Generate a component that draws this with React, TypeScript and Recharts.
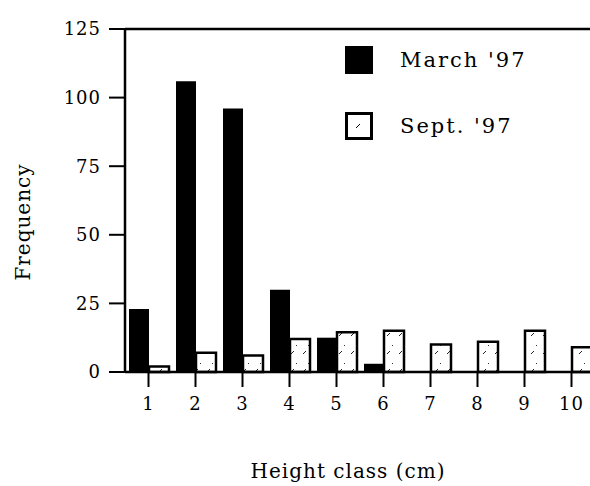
import { Bar, BarChart, Label, Legend, ReferenceLine, XAxis, YAxis } from 'recharts'

const heightClasses = ['1', '2', '3', '4', '5', '6', '7', '8', '9', '10']
const march97 = [23, 106, 96, 30, 12.5, 3, 0, 0, 0, 0]
const sept97 = [2, 7, 6, 12, 14.5, 15, 10, 11, 15, 9]
const yTicks = [0, 25, 50, 75, 100, 125]

const seriesNames = { march: "March '97", sept: "Sept. '97" }

const data = heightClasses.map((c, i) => ({
  cls: c,
  march: march97[i],
  sept: sept97[i],
}))

const FONT = '"DejaVu Serif", "Liberation Serif", serif'
const INK = '#000'

const chartStyle = {
  width: 600,
  height: 486,
  margin: { top: 29, right: 5, bottom: 0, left: 65 },
  tick: { fill: INK, fontSize: 18, fontFamily: FONT, letterSpacing: 1 },
}

function LegendBox() {
  const items = [
    { key: 'march', label: seriesNames.march },
    { key: 'sept', label: seriesNames.sept },
  ]
  return (
    <div style={{ fontFamily: FONT, fontSize: 21, color: INK, letterSpacing: 2 }}>
      {items.map((it, i) => (
        <div
          key={it.key}
          style={{ display: 'flex', alignItems: 'center', height: 28, marginBottom: i === 0 ? 38 : 0 }}
        >
          {it.key === 'march' ? (
            <div style={{ width: 28, height: 28, background: INK }} />
          ) : (
            <svg width={28} height={28}>
              <rect x={1.5} y={1.5} width={25} height={25} fill="#fff" stroke={INK} strokeWidth={3} />
              <line x1={11} y1={16} x2={15} y2={12} stroke={INK} strokeWidth={1} />
            </svg>
          )}
          <span style={{ marginLeft: 27 }}>{it.label}</span>
        </div>
      ))}
    </div>
  )
}

export default function App() {
  return (
    <div style={{ position: 'absolute', left: 0, top: 0, width: 590, height: 486, overflow: 'hidden', background: '#fff' }}>
      <BarChart
        width={chartStyle.width}
        height={chartStyle.height}
        data={data}
        margin={chartStyle.margin}
        barGap={0}
        barSize={20}
      >
        <defs>
          <pattern id="speckle" patternUnits="userSpaceOnUse" width={12} height={18}>
            <rect width={12} height={18} fill="#fff" />
            <line x1={3} y1={12} x2={6} y2={9} stroke="#222" strokeWidth={1} />
            <rect x={8} y={3} width={1} height={1} fill="#333" />
          </pattern>
        </defs>
        <XAxis
          dataKey="cls"
          height={114}
          tick={chartStyle.tick}
          tickSize={15}
          tickMargin={10}
          tickLine={{ stroke: INK, strokeWidth: 2 }}
          axisLine={{ stroke: INK, strokeWidth: 2.5 }}
        >
          <Label
            value="Height class (cm)"
            position="insideBottom"
            offset={8}
            dx={-12}
            style={{ fill: INK, fontSize: 20, fontFamily: FONT, letterSpacing: 1 }}
          />
        </XAxis>
        <YAxis
          domain={[0, 125]}
          ticks={yTicks}
          width={60}
          tick={chartStyle.tick}
          tickSize={16}
          tickMargin={8}
          tickLine={{ stroke: INK, strokeWidth: 2 }}
          axisLine={{ stroke: INK, strokeWidth: 2.5 }}
          interval={0}
        >
          <Label
            content={() => (
              <text
                x={30}
                y={222}
                transform="rotate(-90 30 222)"
                textAnchor="middle"
                style={{ fill: INK, fontSize: 20, fontFamily: FONT, letterSpacing: 1 }}
              >
                Frequency
              </text>
            )}
          />
        </YAxis>
        <ReferenceLine y={125} stroke={INK} strokeWidth={2.5} ifOverflow="visible" />
        <Legend
          layout="vertical"
          align="center"
          verticalAlign="middle"
          content={() => <LegendBox />}
          wrapperStyle={{ position: 'absolute', left: 345, top: 46, width: 240 }}
        />
        <Bar dataKey="march" name={seriesNames.march} fill={INK} isAnimationActive={false} />
        <Bar
          dataKey="sept"
          name={seriesNames.sept}
          fill="url(#speckle)"
          stroke={INK}
          strokeWidth={2.5}
          isAnimationActive={false}
        />
      </BarChart>
    </div>
  )
}
